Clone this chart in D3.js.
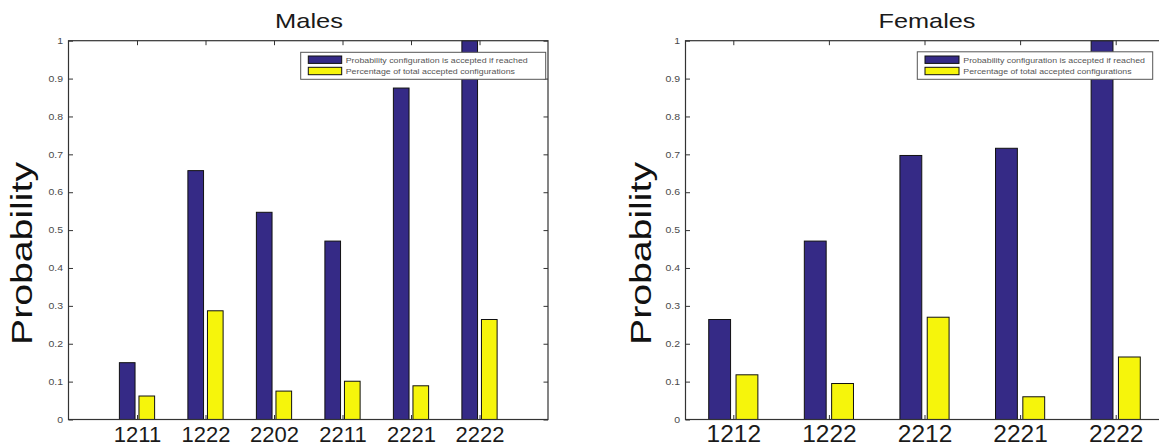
<!DOCTYPE html>
<html>
<head>
<meta charset="utf-8">
<script src="https://cdn.jsdelivr.net/npm/d3@7"></script>
<style>
  html, body { margin: 0; padding: 0; background: #fff; }
  svg { display: block; font-family: "Liberation Sans", Arial, Helvetica, sans-serif; }
</style>
</head>
<body>
<svg id="chart" width="1159" height="447"></svg>
<script>
// ---- data ----
const maleCategories = ["1211", "1222", "2202", "2211", "2221", "2222"];
const maleAccepted   = [0.150, 0.657, 0.547, 0.471, 0.875, 1.000];
const malePercentage = [0.062, 0.287, 0.075, 0.101, 0.089, 0.264];

const femaleCategories = ["1212", "1222", "2212", "2221", "2222"];
const femaleAccepted   = [0.264, 0.471, 0.697, 0.716, 1.000];
const femalePercentage = [0.118, 0.095, 0.270, 0.060, 0.165];

const yTickValues = [0, 0.1, 0.2, 0.3, 0.4, 0.5, 0.6, 0.7, 0.8, 0.9, 1];
const yTickLabels = ["0", "0.1", "0.2", "0.3", "0.4", "0.5", "0.6", "0.7", "0.8", "0.9", "1"];
const seriesNames = ["Probability configuration is accepted if reached",
                     "Percentage of total accepted configurations"];
const panelTitles = ["Males", "Females"];
const yAxisLabel = "Probability";

// ---- style ----
const colors = ["#352a86", "#f6f50b"];
const svg = d3.select("#chart");

function stretch(sel, factor) {
  sel.each(function () {
    const w = this.getComputedTextLength();
    d3.select(this).attr("textLength", w * factor).attr("lengthAdjust", "spacingAndGlyphs");
  });
}

function panel(opts) {
  const { categories, accepted, percentage, title, left, right, xDomain,
          catFont, catPad, titleLen, titleX, legend, ylabX, ylabLen, ylabFont } = opts;
  const top = 40.7, bottom = 419.5;
  const x = d3.scaleLinear().domain(xDomain).range([left, right]);
  const y = d3.scaleLinear().domain([0, 1]).range([bottom, top]);
  const g = svg.append("g");
  const idx = categories.map((d, i) => i + 1);

  // bars
  const series = [accepted, percentage];
  const offsets = [[-0.2571, -0.0286], [0.0286, 0.2571]];
  series.forEach((vals, s) => {
    g.append("g").selectAll("rect").data(vals).join("rect")
      .attr("x", (d, i) => x(idx[i] + offsets[s][0]))
      .attr("width", (d, i) => x(idx[i] + offsets[s][1]) - x(idx[i] + offsets[s][0]))
      .attr("y", d => y(d))
      .attr("height", d => y(0) - y(d))
      .attr("fill", colors[s])
      .attr("stroke", "#111")
      .attr("stroke-width", 1);
  });

  // frame
  g.append("rect").attr("x", left).attr("y", top)
    .attr("width", right - left).attr("height", bottom - top)
    .attr("fill", "none").attr("stroke", "#333").attr("stroke-width", 1.2);

  // axes
  const yL = g.append("g").attr("transform", `translate(${left},0)`)
    .call(d3.axisLeft(y).tickValues(yTickValues).tickSize(-4.5).tickPadding(5.5)
      .tickFormat((d, i) => yTickLabels[i]));
  const yR = g.append("g").attr("transform", `translate(${right},0)`)
    .call(d3.axisRight(y).tickValues(yTickValues).tickSize(-4.5).tickFormat(""));
  const xT = g.append("g").attr("transform", `translate(0,${top})`)
    .call(d3.axisTop(x).tickValues(idx).tickSize(-4.5).tickFormat(""));
  const xB = g.append("g").attr("transform", `translate(0,${bottom})`)
    .call(d3.axisBottom(x).tickValues(idx).tickSize(-4.5).tickPadding(catPad)
      .tickFormat((d, i) => categories[i]));
  [yL, yR, xT, xB].forEach(a => {
    a.select(".domain").remove();
    a.selectAll(".tick line").attr("stroke", "#333").attr("stroke-width", 1);
  });
  yL.selectAll("text").attr("font-size", 8.6).attr("fill", "#4a4a4a")
    .attr("font-family", "Liberation Sans, Arial, sans-serif").call(stretch, 1.22);
  xB.selectAll("text").attr("font-size", catFont).attr("fill", "#1a1a1a")
    .attr("font-family", "Liberation Sans, Arial, sans-serif");

  // title
  g.append("text").attr("x", titleX)
    .attr("y", 28.3).attr("text-anchor", "middle")
    .attr("font-size", 21).attr("fill", "#1a1a1a")
    .attr("textLength", titleLen).attr("lengthAdjust", "spacingAndGlyphs")
    .text(title);

  // y label
  g.append("text")
    .attr("transform", `translate(${ylabX},${253.5}) rotate(-90)`)
    .attr("text-anchor", "middle").attr("font-size", ylabFont).attr("fill", "#111")
    .attr("textLength", ylabLen).attr("lengthAdjust", "spacingAndGlyphs")
    .text(yAxisLabel);

  // legend
  const L = legend;
  const lg = g.append("g");
  lg.append("rect").attr("x", L.x0).attr("y", L.y0)
    .attr("width", L.x1 - L.x0).attr("height", L.y1 - L.y0)
    .attr("fill", "#fff").attr("stroke", "#555").attr("stroke-width", 1);
  const rows = [59.7, 71.0];
  seriesNames.forEach((name, s) => {
    lg.append("rect").attr("x", L.sx).attr("y", rows[s] - 3.7)
      .attr("width", L.sw).attr("height", 7.4)
      .attr("fill", colors[s]).attr("stroke", "#111").attr("stroke-width", 1);
    lg.append("text").attr("x", L.tx).attr("y", rows[s] + 2.8)
      .attr("font-size", 7.4).attr("fill", "#555")
      .attr("textLength", L.tl[s]).attr("lengthAdjust", "spacingAndGlyphs")
      .text(name);
  });
}

panel({
  categories: maleCategories, accepted: maleAccepted, percentage: malePercentage,
  title: panelTitles[0], left: 68.5, right: 548, xDomain: [0, 7],
  catFont: 22, catPad: 6.5, titleLen: 68, titleX: 309,
  legend: { x0: 300.7, x1: 545.7, y0: 52.3, y1: 79.3, sx: 308.3, sw: 33.4, tx: 345.7, tl: [182, 169.3] },
  ylabX: 32.3, ylabLen: 183, ylabFont: 28.8
});
panel({
  categories: femaleCategories, accepted: femaleAccepted, percentage: femalePercentage,
  title: panelTitles[1], left: 685.5, right: 1163.5, xDomain: [0.5, 5.5],
  catFont: 24.5, catPad: 4.6, titleLen: 97, titleX: 927,
  legend: { x0: 917.3, x1: 1152.7, y0: 51.8, y1: 79.3, sx: 925, sw: 34, tx: 963.3, tl: [181.7, 168.3] },
  ylabX: 651, ylabLen: 183, ylabFont: 30
});
</script>
</body>
</html>
